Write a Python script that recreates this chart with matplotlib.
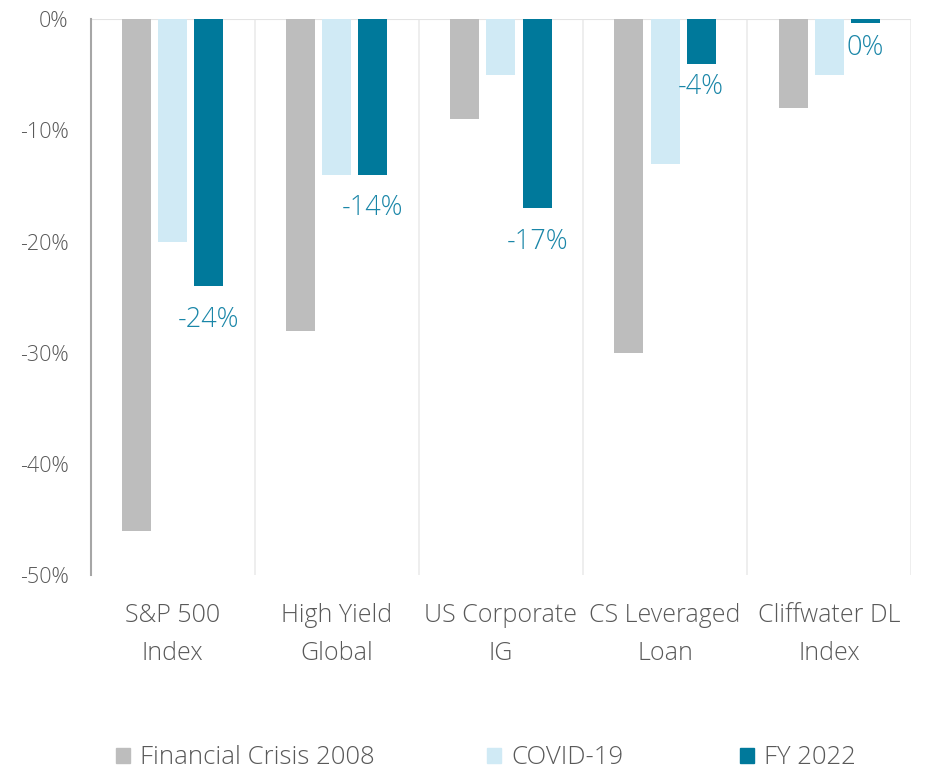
import matplotlib.pyplot as plt
from matplotlib.patches import Patch
import numpy as np

categories = ["S&P 500\nIndex", "High Yield\nGlobal", "US Corporate\nIG", "CS Leveraged\nLoan", "Cliffwater DL\nIndex"]
crisis_2008 = [-46, -28, -9, -30, -8]
covid_19 = [-20, -14, -5, -13, -5]
fy_2022 = [-24, -14, -17, -4, -0.3]
fy_labels = ["-24%", "-14%", "-17%", "-4%", "0%"]
series_names = ["Financial Crisis 2008", "COVID-19", "FY 2022"]

grey = "#bdbdbd"
light = "#d0eaf5"
teal = "#00799b"
txt_col = "#595959"

fig = plt.figure(figsize=(9.26, 7.71), dpi=100)
ax = fig.add_axes([0.098, 0.254, 0.886, 0.721])

x = np.arange(len(categories))
w = 0.177
step = 0.22
ax.bar(x - step, crisis_2008, w, color=grey)
ax.bar(x, covid_19, w, color=light)
ax.bar(x + step, fy_2022, w, color=teal)

# value labels under the FY 2022 bars (short bars get their label a bit closer)
label_gap = [-14, -14, -14, -7, -8]
for xi, v, txt, g in zip(x, fy_2022, fy_labels, label_gap):
    ax.annotate(txt, (xi + step, v), xytext=(0, g), textcoords="offset points",
                ha="center", va="top", color="#1a86a8", fontsize=19.5,
                family="Open Sans", fontweight="light")

ax.set_xlim(-0.5, len(categories) - 0.5)
ax.set_ylim(-50, 0)
ax.set_yticks(np.arange(-50, 1, 10))
ax.set_yticklabels([f"{t}%" for t in range(-50, 1, 10)], family="Open Sans",
                   fontweight="light", fontsize=15.5, color=txt_col)
ax.set_xticks(x)
ax.set_xticklabels(categories, family="Open Sans", fontweight="light", fontsize=18,
                   color=txt_col, linespacing=1.7)
ax.tick_params(axis="y", length=0, pad=16)
ax.tick_params(axis="x", length=0, pad=20)

# separators between categories
for b in np.arange(0.5, len(categories), 1):
    ax.axvline(b, color="#ebebeb", lw=1.2, zorder=0)
ax.axhline(0, color="#e3e3e3", lw=1.5, zorder=0)

for s in ["top", "right", "bottom"]:
    ax.spines[s].set_visible(False)
ax.spines["left"].set_color("#a6a6a6")
ax.spines["left"].set_linewidth(1.5)

# legend entries placed one by one like the original
leg_x = [0.125, 0.526, 0.799]
for name, col, lx in zip(series_names, [grey, light, teal], leg_x):
    leg = fig.legend(handles=[Patch(color=col, label=name)], loc="center left",
                     bbox_to_anchor=(lx, 0.017), frameon=False, borderpad=0, borderaxespad=0,
                     prop={"family": "Open Sans", "weight": "light", "size": 18.5},
                     handlelength=0.55, handleheight=0.55, handletextpad=0.4)
    for t in leg.get_texts():
        t.set_color(txt_col)

fig.savefig("out.png", dpi=100)
